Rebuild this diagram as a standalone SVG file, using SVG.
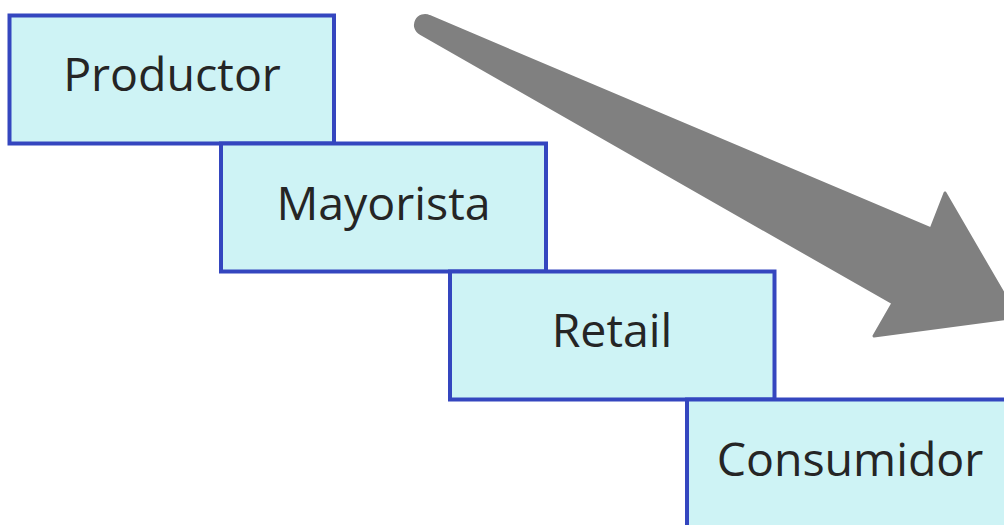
<svg xmlns="http://www.w3.org/2000/svg" width="1004" height="525" viewBox="0 0 1004 525">
<style>
.box{fill:#cef3f5;stroke:#3446bf;stroke-width:4}
.lbl{font-family:"Open Sans","Noto Sans",sans-serif;font-size:46.5px;fill:#252525;text-anchor:middle}
.arrow{fill:#808080;stroke:#808080;stroke-width:3;stroke-linejoin:round}
</style>
<rect width="1004" height="525" fill="#fff"/>
<g id="productor"><rect class="box" x="9.5" y="15.5" width="324.5" height="128"/><text class="lbl" x="172" y="90.5">Productor</text></g>
<g id="mayorista"><rect class="box" x="221" y="143.5" width="325" height="128"/><text class="lbl" x="383.5" y="220">Mayorista</text></g>
<g id="retail"><rect class="box" x="450" y="271.5" width="324.5" height="128"/><text class="lbl" x="612" y="347">Retail</text></g>
<g id="consumidor"><rect class="box" x="687" y="399.5" width="325" height="128"/><text class="lbl" x="850" y="475.5">Consumidor</text></g>
<g id="connectors"><path class="arrow" d="M429.4,16.5 L931,229 L945,193 L1017,317 L874,336 L893,303 L420.6,33.5 A9,9 0 0 1 429.4,16.5 Z"/></g>
</svg>
